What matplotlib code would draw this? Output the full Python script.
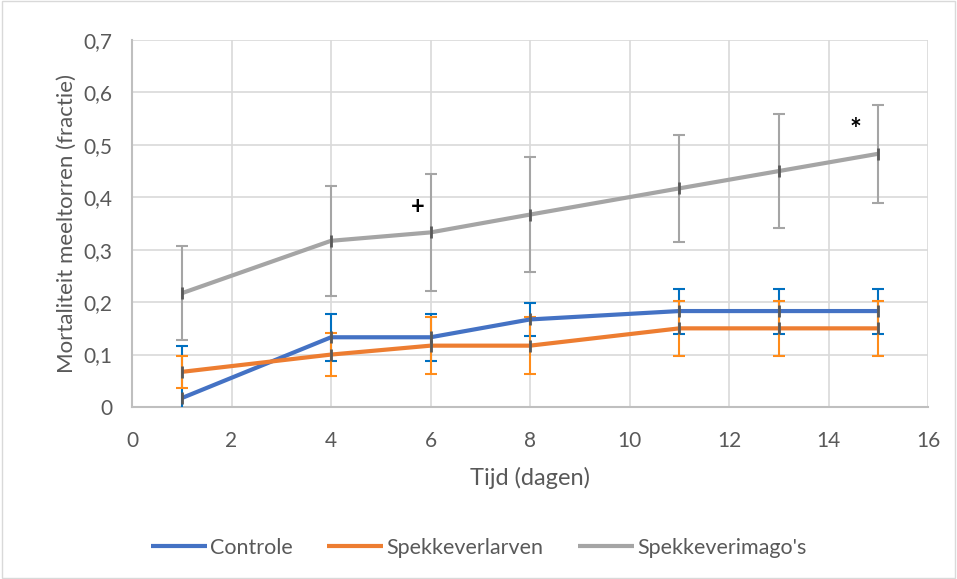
import numpy as np
import matplotlib.pyplot as plt
from matplotlib.ticker import FuncFormatter

plt.rcParams['font.family'] = ['Lato', 'DejaVu Sans']

# Mortality per group over time (fraction)
dagen = [1, 4, 6, 8, 11, 13, 15]
controle = [0.017, 0.133, 0.133, 0.167, 0.183, 0.183, 0.183]
controle_err = [0.100, 0.045, 0.045, 0.031, 0.043, 0.043, 0.043]
larven = [0.067, 0.100, 0.117, 0.117, 0.150, 0.150, 0.150]
larven_err = [0.031, 0.041, 0.055, 0.055, 0.052, 0.052, 0.052]
imago = [0.217, 0.317, 0.333, 0.367, 0.417, 0.450, 0.483]
imago_err = [0.090, 0.105, 0.112, 0.110, 0.102, 0.108, 0.093]

series = [
    ("Controle", controle, controle_err, '#4472C4', '#0070C0'),
    ("Spekkeverlarven", larven, larven_err, '#ED7D31', '#FF8C1A'),
    ("Spekkeverimago's", imago, imago_err, '#A5A5A5', '#A5A5A5'),
]

txt = '#595959'
fig = plt.figure(figsize=(9.57, 5.79), dpi=100)
ax = fig.add_axes([132 / 957, 1 - 407 / 579, 796 / 957, 367 / 579])

for naam, y, err, kleur, errkleur in series:
    ax.errorbar(dagen, y, yerr=err, fmt='none', ecolor=errkleur,
                elinewidth=1.5, capsize=4.5, capthick=1.5, zorder=3)
    ax.plot(dagen, y, color=kleur, lw=3, label=naam, zorder=4,
            solid_capstyle='butt')
    ax.plot(dagen, y, ls='none', marker='|', ms=8, mew=2,
            color='#595959', zorder=5)

# significance marks
ax.text(5.75, 0.382, '+', fontsize=17, fontweight='bold',
        ha='center', va='center', color='black')
ax.text(14.55, 0.528, '*', fontsize=20, fontweight='bold',
        ha='center', va='center', color='black')

ax.set_xlim(0, 16)
ax.set_ylim(0, 0.7)
ax.set_xticks(np.arange(0, 17, 2))
ax.set_yticks(np.arange(0, 0.71, 0.1))
ax.yaxis.set_major_formatter(FuncFormatter(
    lambda v, p: '0' if abs(v) < 1e-9 else f'{v:.1f}'.replace('.', ',')))
ax.grid(True, color='#D9D9D9', lw=1.2)
ax.set_axisbelow(True)
for s in ['top', 'right']:
    ax.spines[s].set_visible(False)
for s in ['left', 'bottom']:
    ax.spines[s].set_color('#BFBFBF')
    ax.spines[s].set_linewidth(1.5)
ax.tick_params(length=0, labelsize=15, labelcolor=txt)
ax.tick_params(axis='x', pad=17)
ax.tick_params(axis='y', pad=14)

ax.set_xlabel('Tijd (dagen)', fontsize=17, color=txt, labelpad=12)
ax.set_ylabel('Mortaliteit meeltorren (fractie)', fontsize=16, color=txt, labelpad=5)

fig.legend(loc='center', bbox_to_anchor=(0.5, 1 - 548 / 579), ncol=3,
           frameon=False, fontsize=15.5, handlelength=2.6, handletextpad=0.15,
           columnspacing=1.6, labelcolor=txt)

# chart border
fig.patches.append(plt.Rectangle((0.002, 0.002), 0.996, 0.996, transform=fig.transFigure,
                                 fill=False, edgecolor='#D9D9D9', lw=1))

fig.savefig('out.png', dpi=100)
